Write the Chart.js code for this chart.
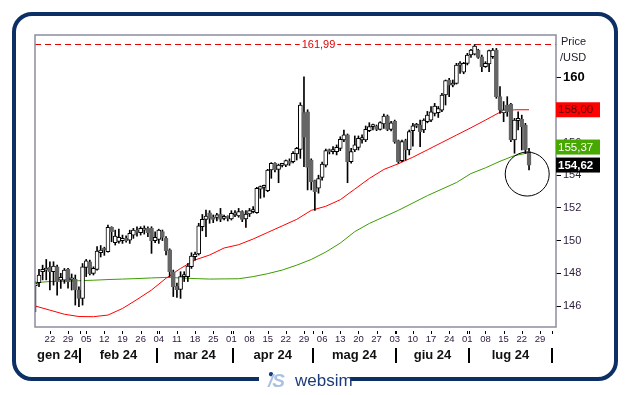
<!DOCTYPE html>
<html><head><meta charset="utf-8">
<script src="https://cdn.jsdelivr.net/npm/chart.js@4.4.1/dist/chart.umd.min.js"></script>
<style>
html,body{margin:0;padding:0;background:#fff;width:629px;height:395px;overflow:hidden;font-family:"Liberation Sans",Arial,sans-serif;}
#frame{position:absolute;left:12px;top:12px;width:598px;height:361px;border:4px solid #0c2f66;border-radius:20px;}
#c{position:absolute;left:0;top:0;}
#logo{position:absolute;left:259px;top:370px;width:91px;height:22px;background:#fff;white-space:nowrap;}
#logo .mark{position:absolute;left:9px;top:0px;font-size:19px;font-weight:bold;font-style:italic;color:#a9c2e3;letter-spacing:-1px;}
#logo .dot{position:absolute;left:9px;top:-2px;font-size:10px;color:#1c3d7a;}
#logo .name{position:absolute;left:36px;top:1px;font-size:17px;color:#1c3d7a;}
</style></head>
<body>
<div id="frame"></div>
<canvas id="c" width="629" height="395"></canvas>
<div id="logo"><span class="dot">&#9679;</span><span class="mark">/S</span><span class="name">websim</span></div>
<script>
// ---- data (one entry per trading day, 16 Jan 2024 .. 24 Jul 2024) ----
const opens  = [147.25,147.43,148.1,148.2,148.36,148.1,148.4,147.59,147.59,148.24,147.6,147.63,146.98,146.47,148.36,148.71,148.0,148.24,149.26,149.5,149.32,150.81,149.87,149.95,150.0,150.14,150.03,150.34,150.6,150.48,150.64,150.75,150.75,150.0,150.07,150.55,150.14,149.43,148.1,147.2,147.02,147.8,147.8,148.41,149.02,149.18,150.85,151.3,151.7,151.42,151.42,151.63,151.36,151.42,151.32,151.57,151.51,151.77,151.32,151.63,151.77,151.71,153.14,153.26,153.05,154.32,154.72,154.36,154.6,154.62,154.85,154.83,155.3,155.58,157.82,157.88,154.93,153.67,153.2,153.87,154.62,155.5,155.44,155.44,155.64,156.15,156.46,154.83,155.54,155.7,156.15,156.15,156.72,156.97,157.0,156.8,157.13,157.62,156.8,157.3,156.11,154.89,156.11,155.54,156.72,157.0,157.07,156.76,157.27,157.37,157.78,157.82,157.98,158.9,159.82,159.51,159.61,160.73,160.3,160.84,161.35,161.4,161.65,161.24,160.63,160.8,161.24,161.65,158.8,157.8,158.29,158.35,156.15,157.33,157.41,157.07,155.44];
const highs  = [147.5,148.24,148.5,148.85,148.71,148.71,148.5,148.0,148.3,148.3,147.96,147.9,147.18,148.6,148.85,148.81,148.4,149.63,149.7,149.6,150.95,150.85,150.64,150.7,150.34,150.3,150.64,150.75,150.85,150.85,150.9,150.85,150.85,150.54,150.7,150.65,150.24,149.5,148.2,147.4,148.1,148.1,148.6,149.26,149.3,151.06,151.6,151.87,151.83,151.57,151.67,151.97,151.56,151.52,151.83,151.83,151.97,151.83,151.83,151.97,152.08,153.26,153.34,153.4,154.36,154.77,154.77,154.68,154.72,154.93,155.0,155.45,155.7,158.43,160.02,158.0,155.0,153.7,154.0,154.8,155.6,155.6,155.75,155.85,156.35,156.76,156.52,155.64,156.4,156.4,156.46,157.01,157.21,157.13,157.07,157.27,157.74,157.68,157.3,157.37,156.15,156.15,156.2,156.76,157.17,157.17,157.37,157.45,157.9,158.19,158.39,158.2,159.0,159.82,159.92,159.82,160.84,160.94,160.9,161.45,161.7,161.99,161.7,161.35,160.94,161.65,161.75,161.75,159.41,158.5,158.8,158.39,157.47,157.88,157.67,157.17,155.64];
const lows   = [145.65,147.18,147.6,147.6,146.98,147.28,146.67,147.08,147.39,147.1,146.98,146.06,145.96,146.06,147.8,147.9,147.9,148.2,149.0,149.1,149.3,149.93,149.73,149.85,149.83,149.9,149.83,150.14,150.28,150.34,150.4,150.24,149.22,149.87,149.83,150.0,149.12,147.8,146.58,146.53,146.47,147.5,147.5,148.3,148.8,149.12,150.6,150.24,151.06,151.1,151.2,151.16,151.26,151.2,151.26,151.47,151.43,151.16,150.81,151.47,151.7,151.67,152.59,152.65,152.99,153.81,154.2,153.54,154.5,154.52,154.6,154.75,154.93,155.03,154.52,153.1,153.1,151.85,152.9,153.7,154.5,155.3,155.3,155.24,155.5,156.05,153.54,154.73,155.44,155.54,155.95,156.05,156.66,156.76,156.72,156.76,156.86,156.72,156.7,155.95,154.73,154.83,154.93,155.24,155.78,156.9,155.74,156.6,157.2,157.27,157.62,157.53,157.88,158.29,158.8,159.4,159.57,160.22,160.2,160.74,161.2,161.35,161.14,160.33,160.59,160.33,161.14,158.7,157.78,157.27,157.6,156.05,155.34,156.76,155.54,155.33,154.32];
const closes = [147.4,147.9,148.25,148.25,148.1,148.45,147.49,147.75,148.2,147.49,147.7,146.98,146.47,148.4,148.77,147.96,148.3,149.36,149.42,149.42,150.81,150.54,150.28,150.2,150.14,150.0,150.44,150.64,150.5,150.75,150.75,150.48,150.0,150.2,150.64,150.2,149.38,148.1,147.19,147.0,147.8,147.9,148.45,149.06,149.18,150.9,151.3,151.5,151.36,151.3,151.57,151.3,151.46,151.36,151.67,151.67,151.77,151.3,151.63,151.83,151.87,153.2,153.3,153.34,154.32,154.72,154.32,154.62,154.68,154.89,154.72,155.34,155.64,158.29,156.32,154.48,153.6,153.0,153.8,154.68,155.5,155.44,155.54,155.7,156.19,156.46,154.83,155.44,155.85,156.25,156.3,156.8,156.97,157.0,156.8,157.21,157.62,156.8,157.2,156.05,154.83,156.05,155.54,156.66,157.01,157.07,156.66,157.37,157.68,157.88,158.23,158.07,158.9,159.78,159.51,159.61,160.73,160.84,160.84,161.35,161.65,161.9,161.2,160.63,160.84,161.61,161.65,158.8,157.98,158.0,157.88,156.15,157.37,157.47,156.97,155.54,154.62];

// moving averages, read every 4th trading day
const maIdx   = [0,4,8,12,16,20,24,28,32,36,40,44,48,52,56,60,64,68,72,76,80,84,88,92,96,100,104,108,112,116,120,124,128,132,136];
const redMA   = [146.0,145.75,145.5,145.36,145.35,145.45,145.85,146.4,146.98,147.7,148.3,148.82,149.12,149.55,149.75,150.1,150.5,150.9,151.3,151.85,152.1,152.5,153.15,153.8,154.35,154.7,155.1,155.55,156.0,156.45,156.9,157.37,157.85,158.0,158.0];
const greenMA = [147.43,147.5,147.52,147.55,147.58,147.62,147.65,147.68,147.72,147.75,147.72,147.68,147.65,147.66,147.67,147.8,147.98,148.2,148.5,148.85,149.3,149.85,150.55,151.05,151.45,151.85,152.3,152.75,153.15,153.55,154.1,154.45,154.85,155.2,155.37];

const maxPrice = 161.99;
const lastPrice = 154.62, redLast = 158.00, greenLast = 155.37;
const yTicks = [146,148,150,152,154,156,158,160];
const weekIdx = [4,9,14,19,24,29,34,39,44,49,54,59,64,69,74,79,84,89,94,99,104,109,114,119,124,129,134,139];
const weekLabels = ['22','29','05','12','19','26','04','11','18','25','01','08','15','22','29','06','13','20','27','03','10','17','24','01','08','15','22','29'];
const monthStart = [12,33,54,76,99,119,142];
const monthLabels = ['gen 24','feb 24','mar 24','apr 24','mag 24','giu 24','lug 24'];
const X_MIN = -0.1, X_MAX = 143.43;

const FONT = '"Liberation Sans", Arial, sans-serif';
Chart.defaults.font.family = FONT;

const wickData = highs.map((h,i)=>({x:i, y:[lows[i], h]}));
const bodyData = opens.map((o,i)=>({x:i, y:[Math.min(o,closes[i]), Math.max(o,closes[i])]}));
const up = opens.map((o,i)=>closes[i]>=o);

const fmt = v => v.toFixed(2).replace('.', ',');

const overlay = {
  id:'overlay',
  afterDraw(chart){
    const {ctx, chartArea:a, scales:{x, y}} = chart;
    ctx.save();
    // plot border
    ctx.strokeStyle = '#8c8ca0'; ctx.lineWidth = 1.5;
    ctx.strokeRect(a.left, a.top, a.right - a.left, a.bottom - a.top);

    // max label on dashed line
    ctx.font = '11px ' + FONT;
    const my = y.getPixelForValue(maxPrice);
    const mx = x.getPixelForValue(78);
    const mt = fmt(maxPrice);
    const mw = ctx.measureText(mt).width;
    ctx.fillStyle = '#fff'; ctx.fillRect(mx - mw/2 - 2, my - 5, mw + 4, 10);
    ctx.fillStyle = '#e00000'; ctx.textAlign = 'center'; ctx.textBaseline = 'middle';
    ctx.fillText(mt, mx, my);

    // week ticks + labels
    ctx.strokeStyle = '#000'; ctx.lineWidth = 1;
    ctx.fillStyle = '#2b1b3b'; ctx.font = '9.5px ' + FONT;
    const ticks = weekIdx.concat(monthStart.map(m=>m+0.4));
    ticks.forEach(v=>{
      const px = Math.round(x.getPixelForValue(v)) + 0.5;
      ctx.beginPath(); ctx.moveTo(px, a.bottom + 4); ctx.lineTo(px, a.bottom + 7); ctx.stroke();
    });
    weekIdx.forEach((v,k)=>{
      ctx.fillText(weekLabels[k], x.getPixelForValue(v), a.bottom + 12.5);
    });

    // month separators + labels
    const bounds = [a.left].concat(monthStart.map(m=>x.getPixelForValue(m+0.4)));
    ctx.lineWidth = 2;
    for (let k = 1; k < bounds.length; k++){
      const px = Math.round(bounds[k]);
      ctx.beginPath(); ctx.moveTo(px, a.bottom + 21); ctx.lineTo(px, a.bottom + 36); ctx.stroke();
    }
    ctx.font = 'bold 13px ' + FONT; ctx.fillStyle = '#111';
    monthLabels.forEach((t,k)=>{
      ctx.fillText(t, (bounds[k] + bounds[k+1]) / 2, a.bottom + 28);
    });

    // Price /USD
    ctx.textAlign = 'left'; ctx.font = '11px ' + FONT; ctx.fillStyle = '#1a1a2a';
    ctx.fillText('Price', a.right + 5, 42);
    ctx.fillText('/USD', a.right + 4, 58);

    // value boxes
    const bx = a.right, bw = 44, bh = 15;
    const blackTop = y.getPixelForValue(lastPrice) - 7.5;
    let greenTop = y.getPixelForValue(greenLast) - 7.5;
    if (greenTop + bh > blackTop - 3) greenTop = blackTop - 3 - bh;
    const redTop = y.getPixelForValue(redLast) - 7.5;
    const box = (top, fill, col, txt, bold) => {
      ctx.fillStyle = fill; ctx.fillRect(bx, top, bw, bh);
      ctx.fillStyle = col; ctx.font = (bold ? 'bold ' : '') + '11.5px ' + FONT;
      ctx.textBaseline = 'middle'; ctx.fillText(txt, bx + 2, top + bh/2 + 0.5);
    };
    box(redTop, '#ff0000', '#5a0000', fmt(redLast), false);
    box(greenTop, '#46a800', '#ffffff', fmt(greenLast), false);
    box(blackTop, '#000000', '#ffffff', fmt(lastPrice), true);

    // circle on last candle
    ctx.strokeStyle = '#000'; ctx.lineWidth = 1;
    ctx.beginPath();
    ctx.arc(x.getPixelForValue(135.5), y.getPixelForValue(154.07), 22, 0, Math.PI*2);
    ctx.stroke();
    ctx.restore();
  }
};

new Chart(document.getElementById('c'), {
  type:'bar',
  data:{ datasets:[
    { label:'body', data:bodyData, order:0, grouped:false, barThickness:4, borderWidth:1, borderSkipped:false, minBarLength:2,
      backgroundColor: up.map(u=>u ? '#ffffff' : '#666666'),
      borderColor: up.map(u=>u ? '#000000' : '#666666') },
    { label:'wick', data:wickData, order:1, grouped:false, barThickness:1, backgroundColor:'#000', borderWidth:0 },
    { type:'line', label:'red', data:maIdx.map((v,k)=>({x:v, y:redMA[k]})), order:3, borderColor:'#ff0000', borderWidth:1, pointRadius:0, tension:0 },
    { type:'line', label:'green', data:maIdx.map((v,k)=>({x:v, y:greenMA[k]})), order:3, borderColor:'#3c9c00', borderWidth:1, pointRadius:0, tension:0 },
    { type:'line', label:'max', data:[{x:X_MIN, y:maxPrice},{x:X_MAX, y:maxPrice}], order:4, borderColor:'#e00000', borderWidth:1, borderDash:[6,4], pointRadius:0 }
  ]},
  options:{
    responsive:false, animation:false, events:[],
    layout:{padding:{left:35, top:35, right:0, bottom:0}},
    plugins:{legend:{display:false}, tooltip:{enabled:false}},
    scales:{
      x:{type:'linear', min:X_MIN, max:X_MAX, offset:false,
         grid:{display:false}, border:{display:false}, ticks:{display:false},
         afterFit(s){ s.height = 68; }},
      y:{type:'linear', position:'right', min:144.72, max:162.57,
         afterBuildTicks(s){ s.ticks = yTicks.map(v=>({value:v})); },
         afterFit(s){ s.width = 73; },
         grid:{drawOnChartArea:false, drawTicks:true, tickLength:5, color:'#000'},
         border:{display:false},
         ticks:{padding:2, color:(c)=> c.tick && c.tick.value===160 ? '#000' : '#2b1b3b',
                font:(c)=> c.tick && c.tick.value===160 ? {size:13, weight:'bold'} : {size:11},
                callback:v=>String(v)}}
    }
  },
  plugins:[overlay]
});
</script>
</body></html>
